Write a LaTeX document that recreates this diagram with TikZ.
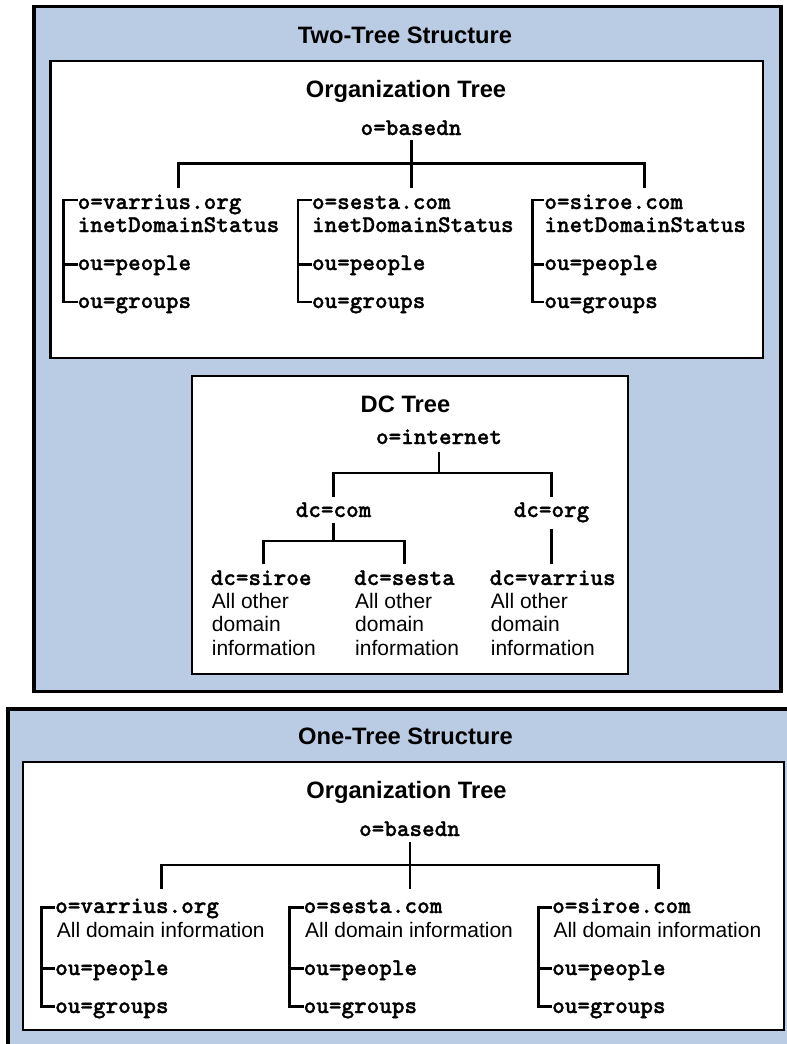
\documentclass[tikz,border=0pt]{standalone}
\usepackage{fontspec}
\setsansfont{Liberation Sans}
\newfontfamily\codefont{lmmonolt10-bold.otf}[FakeBold=1.2]
\definecolor{panelblue}{RGB}{186,204,228}
\begin{document}
\begin{tikzpicture}[x=1pt,y=-1pt,
  panel/.style={draw=black, line width=3.6pt, fill=panelblue},
  box/.style={draw=black, line width=2.5pt, fill=white},
  heading/.style={font=\fontsize{23.7}{27}\selectfont\sffamily\bfseries, anchor=base, inner sep=0pt},
  code/.style={font=\fontsize{24}{28}\selectfont\codefont, anchor=base west, inner sep=0pt},
  codec/.style={code, anchor=base},
  info/.style={font=\fontsize{21}{24}\selectfont\sffamily, anchor=base west, inner sep=0pt},
  link/.style={line width=2.5pt}]
\clip (0,0) rectangle (787,1044);

% ---------- panels and frames ----------
\draw[panel] (34,6.5) rectangle (781,691.5);
\draw[panel] (8,709) rectangle (820,1080);
\draw[box] (50.5,61) rectangle (763,358);
\draw[box] (192,376) rectangle (628,674);
\draw[box] (23,762) rectangle (784,1030);

% ---------- headings ----------
\node[heading] (twotitle) at (405,43) {Two-Tree Structure};
\node[heading] (orgtitleA) at (406,97) {Organization Tree};
\node[heading] (dctitle) at (405.5,412) {DC Tree};
\node[heading] (onetitle) at (405.5,744) {One-Tree Structure};
\node[heading] (orgtitleB) at (406.5,798) {Organization Tree};

% ---------- two-tree: organization tree ----------
\node[codec] (rootA) at (411,135) {o=basedn};
\coordinate (barA) at (411.7,163.3);
\coordinate (dropA1) at (178.3,188);
\coordinate (dropA2) at (411.7,188);
\coordinate (dropA3) at (644.3,188);
\draw[link] (rootA.south -| barA) ++(0,5) -- (dropA2);
\draw[link] (dropA1) -- (dropA1 |- barA) -- (dropA3 |- barA) -- (dropA3);

% varrius
\node[code] (a1o) at (77.5,209) {o=varrius.org};
\node[code] (a1s) at (77.5,232) {inetDomainStatus};
\node[code] (a1p) at (77.5,270) {ou=people};
\node[code] (a1g) at (77.5,308) {ou=groups};
\coordinate (a1top) at (63.5,200);
\coordinate (a1bot) at (63.5,302);
\draw[link] (a1o.base west |- a1top) -- (a1top) -- (a1bot) -- (a1g.base west |- a1bot);
\draw[link] (a1top |- 0,264.5) -- (a1p.base west |- 0,264.5);
% sesta
\node[code] (a2o) at (311.8,209) {o=sesta.com};
\node[code] (a2s) at (311.8,232) {inetDomainStatus};
\node[code] (a2p) at (311.8,270) {ou=people};
\node[code] (a2g) at (311.8,308) {ou=groups};
\coordinate (a2top) at (297.8,200);
\coordinate (a2bot) at (297.8,302);
\draw[link] (a2o.base west |- a2top) -- (a2top) -- (a2bot) -- (a2g.base west |- a2bot);
\draw[link] (a2top |- 0,264.5) -- (a2p.base west |- 0,264.5);
% siroe
\node[code] (a3o) at (544.2,209) {o=siroe.com};
\node[code] (a3s) at (544.2,232) {inetDomainStatus};
\node[code] (a3p) at (544.2,270) {ou=people};
\node[code] (a3g) at (544.2,308) {ou=groups};
\coordinate (a3top) at (532.5,200);
\coordinate (a3bot) at (532.5,302);
\draw[link] (a3o.base west |- a3top) -- (a3top) -- (a3bot) -- (a3g.base west |- a3bot);
\draw[link] (a3top |- 0,264.5) -- (a3p.base west |- 0,264.5);

% ---------- two-tree: DC tree ----------
\node[codec] (inet) at (439,444) {o=internet};
\node[codec] (dccom) at (333.5,517) {dc=com};
\node[codec] (dcorg) at (551.5,517) {dc=org};
\coordinate (barI) at (439,473);
\draw[link] (inet.south -| barI) ++(0,8) -- (barI);
\draw[link] (333.5,497) -- (333.5,473) -- (551.7,473) -- (551.7,497);
\coordinate (barC) at (333.5,541);
\draw[link] (dccom.south -| barC) ++(0,6) -- (barC);
\draw[link] (263.3,564) -- (263.3,541) -- (404.3,541) -- (404.3,564);
\draw[link] (dcorg.south -| 551.7,0) ++(0,6) -- (551.7,564);

\node[code] (dcsiroe) at (210.5,585) {dc=siroe};
\node[info] (dcsiroe1) at (211.7,608.3) {All other};
\node[info] (dcsiroe2) at (211.7,631.7) {domain};
\node[info] (dcsiroe3) at (211.7,655) {information};
\node[code] (dcsesta) at (353.8,585) {dc=sesta};
\node[info] (dcsesta1) at (355,608.3) {All other};
\node[info] (dcsesta2) at (355,631.7) {domain};
\node[info] (dcsesta3) at (355,655) {information};
\node[code] (dcvarr) at (489.5,585) {dc=varrius};
\node[info] (dcvarr1) at (490.7,608.3) {All other};
\node[info] (dcvarr2) at (490.7,631.7) {domain};
\node[info] (dcvarr3) at (490.7,655) {information};

% ---------- one-tree: organization tree ----------
\node[codec] (rootB) at (409.5,836) {o=basedn};
\coordinate (barB) at (410,865);
\coordinate (dropB1) at (161.7,889);
\coordinate (dropB2) at (410,889);
\coordinate (dropB3) at (658.3,889);
\draw[link] (rootB.south -| barB) ++(0,6) -- (dropB2);
\draw[link] (dropB1) -- (dropB1 |- barB) -- (dropB3 |- barB) -- (dropB3);

% varrius
\node[code] (b1o) at (55,913) {o=varrius.org};
\node[info] (b1s) at (56.7,937.5) {All domain information};
\node[code] (b1p) at (55,975) {ou=people};
\node[code] (b1g) at (55,1013) {ou=groups};
\coordinate (b1top) at (41.7,907.7);
\coordinate (b1bot) at (41.7,1006.7);
\draw[link] (b1o.base west |- b1top) -- (b1top) -- (b1bot) -- (b1g.base west |- b1bot);
\draw[link] (b1top |- 0,968.7) -- (b1p.base west |- 0,968.7);
% sesta
\node[code] (b2o) at (303.5,913) {o=sesta.com};
\node[info] (b2s) at (305,937.5) {All domain information};
\node[code] (b2p) at (303.5,975) {ou=people};
\node[code] (b2g) at (303.5,1013) {ou=groups};
\coordinate (b2top) at (289.3,907.7);
\coordinate (b2bot) at (289.3,1006.7);
\draw[link] (b2o.base west |- b2top) -- (b2top) -- (b2bot) -- (b2g.base west |- b2bot);
\draw[link] (b2top |- 0,968.7) -- (b2p.base west |- 0,968.7);
% siroe
\node[code] (b3o) at (552,913) {o=siroe.com};
\node[info] (b3s) at (553.3,937.5) {All domain information};
\node[code] (b3p) at (552,975) {ou=people};
\node[code] (b3g) at (552,1013) {ou=groups};
\coordinate (b3top) at (538.3,907.7);
\coordinate (b3bot) at (538.3,1006.7);
\draw[link] (b3o.base west |- b3top) -- (b3top) -- (b3bot) -- (b3g.base west |- b3bot);
\draw[link] (b3top |- 0,968.7) -- (b3p.base west |- 0,968.7);
\end{tikzpicture}
\end{document}
